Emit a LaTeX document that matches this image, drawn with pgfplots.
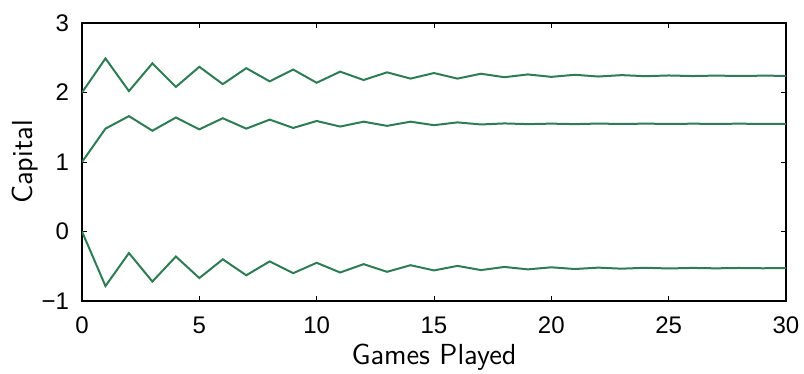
\documentclass[border=0pt]{standalone}
\usepackage{fontspec}
\setmainfont{Liberation Sans}
\usepackage{pgfplots}
\pgfplotsset{compat=1.18}
\definecolor{lg}{RGB}{46,124,84}
\begin{document}
\begin{tikzpicture}
\begin{axis}[
  scale only axis,
  width=352pt, height=139pt,
  xmin=0, xmax=30, ymin=-1, ymax=3,
  xtick={0,5,...,30}, ytick={-1,0,1,2,3},
  yticklabels={−1,0,1,2,3},
  tick align=inside,
  tick style={black, line width=0.5pt},
  major tick length=2.5pt,
  axis line style={black, line width=0.6pt},
  /pgf/number format/assume math mode=true,
  tick label style={font=\fontsize{12}{14}\selectfont},
  xticklabel style={yshift=-4.5pt},
  yticklabel style={xshift=-3pt},
  xlabel={\sffamily\fontsize{14.5}{16}\selectfont Games Played},
  ylabel={\sffamily\fontsize{14.5}{16}\selectfont Capital},
  xlabel style={at={(axis description cs:0.5,-0.23)}, anchor=base},
  ylabel style={at={(axis description cs:-0.071,0.5)}, anchor=base},
]
\addplot[lg, line width=1pt] coordinates {
(0,2.00)(1,2.49)(2,2.02)(3,2.42)(4,2.08)(5,2.37)(6,2.12)(7,2.35)(8,2.16)(9,2.33)
(10,2.14)(11,2.30)(12,2.18)(13,2.29)(14,2.20)(15,2.28)(16,2.20)(17,2.27)(18,2.22)(19,2.26)
(20,2.225)(21,2.255)(22,2.23)(23,2.25)(24,2.235)(25,2.245)(26,2.237)(27,2.243)(28,2.238)(29,2.242)(30,2.24)};
\addplot[lg, line width=1pt] coordinates {
(0,1.00)(1,1.48)(2,1.66)(3,1.45)(4,1.64)(5,1.47)(6,1.63)(7,1.48)(8,1.61)(9,1.49)
(10,1.59)(11,1.51)(12,1.58)(13,1.52)(14,1.58)(15,1.53)(16,1.57)(17,1.54)(18,1.555)(19,1.545)
(20,1.552)(21,1.545)(22,1.553)(23,1.547)(24,1.552)(25,1.548)(26,1.551)(27,1.549)(28,1.551)(29,1.549)(30,1.55)};
\addplot[lg, line width=1pt] coordinates {
(0,0.00)(1,-0.785)(2,-0.31)(3,-0.72)(4,-0.36)(5,-0.67)(6,-0.40)(7,-0.63)(8,-0.43)(9,-0.60)
(10,-0.45)(11,-0.59)(12,-0.47)(13,-0.58)(14,-0.485)(15,-0.56)(16,-0.495)(17,-0.555)(18,-0.51)(19,-0.545)
(20,-0.515)(21,-0.54)(22,-0.52)(23,-0.535)(24,-0.522)(25,-0.532)(26,-0.524)(27,-0.53)(28,-0.525)(29,-0.529)(30,-0.527)};
\end{axis}
\pgfresetboundingbox
\path ([xshift=-41pt,yshift=-36.5pt]current axis.south west) rectangle ([xshift=9pt,yshift=11.5pt]current axis.north east);
\end{tikzpicture}
\end{document}
